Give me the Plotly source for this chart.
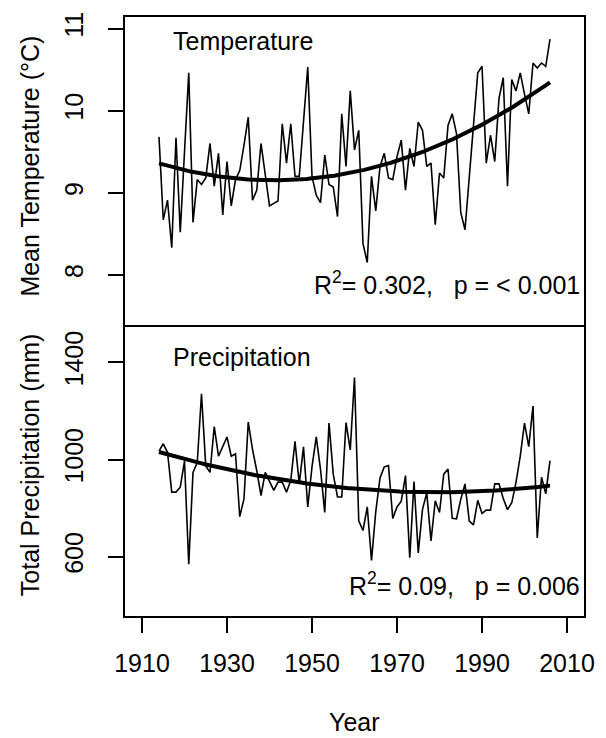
import numpy as np
import plotly.graph_objects as go

years = list(range(1914, 2007))

temperature = [9.68, 8.67, 8.91, 8.33, 9.67, 8.52, 9.50, 10.46, 8.64, 9.16,
               9.10, 9.18, 9.60, 9.08, 9.48, 8.73, 9.38, 8.84, 9.16, 9.27,
               9.58, 9.92, 8.91, 9.03, 9.60, 9.20, 8.84, 8.87, 8.90, 9.84,
               9.36, 9.84, 9.20, 9.20, 9.86, 10.53, 9.20, 8.97, 8.88, 9.46,
               9.10, 9.07, 8.71, 9.96, 9.32, 10.24, 9.52, 9.76, 8.38, 8.15,
               9.20, 8.78, 9.32, 9.48, 9.18, 9.16, 9.44, 9.64, 9.03, 9.54,
               9.32, 9.86, 9.76, 9.32, 9.36, 8.61, 9.24, 9.18, 9.82, 9.96,
               9.72, 8.76, 8.55, 9.20, 9.82, 10.46, 10.54, 9.36, 9.70, 9.38,
               10.15, 10.40, 9.08, 10.38, 10.24, 10.46, 10.20, 9.96, 10.58, 10.52,
               10.58, 10.54, 10.87]

precipitation = [1035, 1065, 1030, 866, 866, 886, 994, 569, 947, 988,
                 1271, 974, 947, 1136, 1014, 1055, 1093, 1014, 1024, 765,
                 839, 1154, 1042, 954, 852, 947, 913, 873, 907, 907,
                 866, 913, 1075, 900, 1052, 805, 970, 1093, 960, 782,
                 1150, 940, 846, 846, 1152, 1040, 1338, 748, 708, 805,
                 585, 785, 924, 970, 975, 758, 805, 829, 934, 596,
                 909, 616, 795, 863, 665, 830, 782, 940, 961, 758,
                 756, 836, 900, 747, 731, 832, 778, 792, 792, 900,
                 900, 840, 794, 822, 906, 1014, 1150, 1053, 1220, 677,
                 927, 859, 996]

x_ticks = [1910, 1930, 1950, 1970, 1990, 2010]
temp_ticks = [8, 9, 10, 11]
precip_ticks = [600, 1000, 1400]

temp_label = "Temperature"
precip_label = "Precipitation"
temp_stats = "R<sup>2</sup>= 0.302,\u00a0\u00a0\u00a0p = &lt; 0.001"
precip_stats = "R<sup>2</sup>= 0.09,\u00a0\u00a0\u00a0p = 0.006"

assert len(years) == len(temperature) == len(precipitation)

# quadratic fits
yrs = np.array(years, dtype=float)
grid = np.linspace(yrs.min(), yrs.max(), 300)
tfit = np.polyval(np.polyfit(yrs, temperature, 2), grid)
pfit = np.polyval(np.polyfit(yrs, precipitation, 2), grid)

W_FIG, H_FIG = 606, 738
L, R, T, B = 125, 13, 12, 122
PW = W_FIG - L - R
PH = H_FIG - T - B
split = 291 / PH

FONT = "Liberation Sans, Arial, sans-serif"
FS = 25


def px_x(px):
    return (px - L) / PW


def px_y(py):
    return (H_FIG - B - py) / PH


fig = go.Figure()
fig.add_trace(go.Scatter(x=years, y=temperature, mode="lines",
                         line=dict(color="black", width=1.6),
                         xaxis="x2", yaxis="y2", showlegend=False))
fig.add_trace(go.Scatter(x=grid, y=tfit, mode="lines",
                         line=dict(color="black", width=4),
                         xaxis="x2", yaxis="y2", showlegend=False))
fig.add_trace(go.Scatter(x=years, y=precipitation, mode="lines",
                         line=dict(color="black", width=1.6),
                         xaxis="x", yaxis="y", showlegend=False))
fig.add_trace(go.Scatter(x=grid, y=pfit, mode="lines",
                         line=dict(color="black", width=4),
                         xaxis="x", yaxis="y", showlegend=False))

line_style = dict(linecolor="black", linewidth=2, showgrid=False, zeroline=False)

fig.update_layout(
    width=W_FIG, height=H_FIG,
    margin=dict(l=L, r=R, t=T, b=B),
    paper_bgcolor="white", plot_bgcolor="white",
    font=dict(family=FONT, size=FS, color="black"),
    xaxis=dict(range=[1906, 2014], anchor="y", domain=[0, 1],
               tickmode="array", tickvals=x_ticks, ticks="outside",
               ticklen=15, tickwidth=2, tickcolor="black",
               ticklabelstandoff=9, showline=True, mirror=True,
               tickfont=dict(family=FONT, size=FS, color="black"),
               **line_style),
    yaxis=dict(range=[356, 1544], domain=[0, split], anchor="x",
               tickmode="array", tickvals=precip_ticks, ticks="outside",
               ticklen=15, tickwidth=2, tickcolor="black", tickangle=-90,
               ticklabelstandoff=15, showline=True, mirror=True,
               tickfont=dict(family=FONT, size=FS, color="black"),
               **line_style),
    xaxis2=dict(range=[1906, 2014], anchor="y2", domain=[0, 1], side="top",
                showticklabels=False, ticks="", showline=True, mirror=False,
                **line_style),
    yaxis2=dict(range=[7.36, 11.14], domain=[split, 1], anchor="x2",
                tickmode="array", tickvals=temp_ticks, ticks="outside",
                ticklen=15, tickwidth=2, tickcolor="black", tickangle=-90,
                ticklabelstandoff=15, showline=True, mirror=True,
                tickfont=dict(family=FONT, size=FS, color="black"),
                **line_style),
)

ann = [
    dict(text=temp_label, x=px_x(172), y=px_y(36), xanchor="left", yanchor="middle"),
    dict(text=precip_label, x=px_x(172), y=px_y(355), xanchor="left", yanchor="middle"),
    dict(text=temp_stats, x=px_x(591), y=px_y(280), xanchor="right", yanchor="middle"),
    dict(text=precip_stats, x=px_x(591), y=px_y(584), xanchor="right", yanchor="middle"),
    dict(text="Year", x=px_x(359), y=px_y(723), xanchor="center", yanchor="middle"),
    dict(text="Mean Temperature (\u00b0C)", x=px_x(28), y=px_y(162), textangle=-90,
         xanchor="center", yanchor="middle"),
    dict(text="Total Precipitation (mm)", x=px_x(28), y=px_y(463), textangle=-90,
         xanchor="center", yanchor="middle"),
]
for a in ann:
    fig.add_annotation(xref="paper", yref="paper", showarrow=False,
                       font=dict(family=FONT, size=FS, color="black"), **a)

fig.write_html("out.html")
